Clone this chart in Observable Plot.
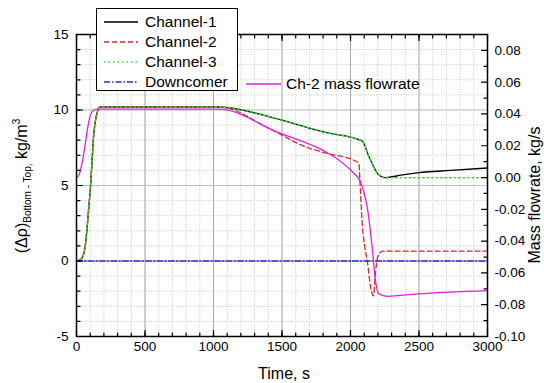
<!DOCTYPE html>
<html><head><meta charset="utf-8">
<script src="https://cdn.jsdelivr.net/npm/d3@7"></script>
<script src="https://cdn.jsdelivr.net/npm/@observablehq/plot@0.6"></script>
<style>
body{margin:0;background:#fff;}
#chart{position:relative;width:544px;height:383px;}
svg{font-family:"Liberation Sans",Arial,sans-serif;}
</style></head><body><div id="chart"></div>
<script>
// ---- data ----
const ch1Time  = [0, 30, 50, 66, 78, 90, 102, 114, 126, 140, 155, 170, 1040, 1430, 1800, 2085, 2135, 2207, 2256, 2365, 2500, 2730, 3000];
const ch1Value = [0, 0.1, 0.4, 1.15, 2.25, 3.6, 4.9, 6.7, 8.4, 9.4, 9.95, 10.2, 10.2, 9.5, 8.55, 7.95, 6.9, 5.7, 5.52, 5.68, 5.85, 6.0, 6.16];

const ch2Time  = [0, 30, 50, 66, 78, 90, 102, 114, 126, 140, 155, 170, 1040, 1430, 1674, 1800, 2061, 2068, 2075, 2087, 2105, 2124, 2146, 2168, 2182, 2197, 2215, 2235, 3000];
const ch2Value = [0, 0.1, 0.4, 1.15, 2.25, 3.6, 4.9, 6.7, 8.4, 9.4, 9.95, 10.2, 10.2, 8.66, 7.55, 7.2, 6.5, 5.5, 4.2, 2.3, 0.9, -0.1, -1.7, -2.3, -0.8, 0.2, 0.55, 0.65, 0.66];

const ch3Time  = [0, 30, 50, 66, 78, 90, 102, 114, 126, 140, 155, 170, 1040, 1430, 1800, 2085, 2135, 2207, 2256, 2500, 3000];
const ch3Value = [0, 0.1, 0.4, 1.15, 2.25, 3.6, 4.9, 6.7, 8.4, 9.4, 9.95, 10.2, 10.2, 9.5, 8.55, 7.95, 6.9, 5.7, 5.52, 5.52, 5.52];

const dcTime  = [0, 3000];
const dcValue = [0, 0];

// Ch-2 mass flowrate (kg/s, right axis)
const massTime  = [0, 20, 40, 55, 70, 85, 100, 120, 150, 1040, 1430, 2055, 2085, 2121, 2158, 2182, 2207, 2268, 2487, 3000];
const massValue = [0.000, 0.002, 0.009, 0.016, 0.025, 0.033, 0.039, 0.042, 0.043, 0.043, 0.030, 0.000, -0.0057, -0.018, -0.0437, -0.0647, -0.0732, -0.0747, -0.0732, -0.0711];

// ---- axes ----
const xDomain = [0, 3000];
const leftDomain = [-5, 15];
const rightDomain = [-0.10, 0.09];
const xMajor = [0, 500, 1000, 1500, 2000, 2500, 3000];
const xMinor = d3.range(100, 3000, 100);
const yMajor = [-5, 0, 5, 10, 15];
const yMinor = d3.range(-4, 15, 1);
const rMajor = [-0.10, -0.08, -0.06, -0.04, -0.02, 0.00, 0.02, 0.04, 0.06, 0.08];
const rMinor = [-0.09, -0.07, -0.05, -0.03, -0.01, 0.01, 0.03, 0.05, 0.07];

const seriesNames = ["Channel-1", "Channel-2", "Channel-3", "Downcomer"];
const massName = "Ch-2 mass flowrate";

const toLeft = m => leftDomain[0] + (m - rightDomain[0]) * (leftDomain[1] - leftDomain[0]) / (rightDomain[1] - rightDomain[0]);
const rows = (T, V, f = v => v) => T.map((t, i) => ({t, v: f(V[i])}));

const tickShape = (dx, dy) => ({draw(ctx, l) { ctx.moveTo(0, 0); ctx.lineTo(dx * l, dy * l); }});
const MAJ = 6, MIN = 3.5;
const tickMarks = [
  Plot.vector(yMajor, {y: d => d, frameAnchor: "left", length: MAJ, anchor: "start", shape: tickShape(1, 0), stroke: "black", strokeWidth: 1.2}),
  Plot.vector(yMinor, {y: d => d, frameAnchor: "left", length: MIN, anchor: "start", shape: tickShape(1, 0), stroke: "black", strokeWidth: 1.2}),
  Plot.vector(rMajor, {y: d => toLeft(d), frameAnchor: "right", length: MAJ, anchor: "start", shape: tickShape(-1, 0), stroke: "black", strokeWidth: 1.2}),
  Plot.vector(rMinor, {y: d => toLeft(d), frameAnchor: "right", length: MIN, anchor: "start", shape: tickShape(-1, 0), stroke: "black", strokeWidth: 1.2}),
  Plot.vector(xMajor, {x: d => d, frameAnchor: "bottom", length: MAJ, anchor: "start", shape: tickShape(0, -1), stroke: "black", strokeWidth: 1.2}),
  Plot.vector(xMinor, {x: d => d, frameAnchor: "bottom", length: MIN, anchor: "start", shape: tickShape(0, -1), stroke: "black", strokeWidth: 1.2}),
  Plot.vector(xMajor, {x: d => d, frameAnchor: "top", length: MAJ, anchor: "start", shape: tickShape(0, 1), stroke: "black", strokeWidth: 1.2}),
  Plot.vector(xMinor, {x: d => d, frameAnchor: "top", length: MIN, anchor: "start", shape: tickShape(0, 1), stroke: "black", strokeWidth: 1.2})
];

const chart = Plot.plot({
  width: 544, height: 383,
  marginLeft: 76, marginRight: 57, marginTop: 34, marginBottom: 47,
  style: {fontFamily: "'Liberation Sans', Arial, sans-serif", background: "white", color: "black"},
  x: {domain: xDomain, axis: null},
  y: {domain: leftDomain, axis: null},
  marks: [
    Plot.gridX(xMinor, {stroke: "#c8c8c8", strokeOpacity: 1, strokeDasharray: "1,1.5"}),
    Plot.gridY(yMinor, {stroke: "#c8c8c8", strokeOpacity: 1, strokeDasharray: "1,1.5"}),
    Plot.gridX(xMajor, {stroke: "#a8a8a8", strokeOpacity: 1}),
    Plot.gridY(yMajor, {stroke: "#c0c0c0", strokeOpacity: 1}),
    Plot.line(rows(ch1Time, ch1Value), {x: "t", y: "v", stroke: "black", strokeWidth: 1.3, curve: "monotone-x"}),
    Plot.line(rows(ch2Time, ch2Value), {x: "t", y: "v", stroke: "#d42a2a", strokeWidth: 1.3, strokeDasharray: "5,3", curve: "monotone-x"}),
    Plot.line(rows(ch3Time, ch3Value), {x: "t", y: "v", stroke: "#33dd33", strokeWidth: 1.5, strokeDasharray: "1.5,3", curve: "monotone-x"}),
    Plot.line(rows(dcTime, dcValue), {x: "t", y: "v", stroke: "#2b2bd0", strokeWidth: 1.3, strokeDasharray: "6,2,1.5,2"}),
    Plot.line(rows(massTime, massValue, toLeft), {x: "t", y: "v", stroke: "#e020e0", strokeWidth: 1.3, curve: "monotone-x"}),
    Plot.frame({stroke: "black", strokeWidth: 1.5}),
    ...tickMarks,
    Plot.text(yMajor, {y: d => d, text: d => String(d), frameAnchor: "left", dx: -8, textAnchor: "end", fontSize: 13.5, fill: "black"}),
    Plot.text(rMajor, {y: d => toLeft(d), text: d => d.toFixed(2), frameAnchor: "right", dx: 7, textAnchor: "start", fontSize: 13.5, fill: "black"}),
    Plot.text(xMajor, {x: d => d, text: d => String(d), frameAnchor: "bottom", dy: 14, fontSize: 13.5, fill: "black"})
  ]
});
document.getElementById("chart").appendChild(chart);

// ---- titles and legend ----
const svg = d3.select(chart);
const font = "'Liberation Sans', Arial, sans-serif";
const lt = svg.append("text").attr("transform", "translate(21,186) rotate(-90)")
  .attr("text-anchor", "middle").attr("dy", "0.35em").attr("font-size", 16).attr("font-family", font).attr("fill", "black");
lt.append("tspan").text("(Δρ)");
lt.append("tspan").attr("font-size", 10).attr("dy", 4).text("Bottom - Top,");
lt.append("tspan").attr("dy", -4).text(" kg/m");
lt.append("tspan").attr("font-size", 10).attr("dy", -7).text("3");

svg.append("text").attr("transform", "translate(534.5,195) rotate(-90)")
  .attr("text-anchor", "middle").attr("dy", "0.35em").attr("font-size", 16).attr("font-family", font).attr("fill", "black")
  .text("Mass flowrate, kg/s");
svg.append("text").attr("x", 284).attr("y", 379).attr("text-anchor", "middle")
  .attr("font-size", 16).attr("font-family", font).attr("fill", "black").text("Time, s");

const legendStyles = [
  {stroke: "black", dash: null, w: 1.3},
  {stroke: "#d42a2a", dash: "5,3", w: 1.3},
  {stroke: "#33dd33", dash: "1.5,3", w: 1.5},
  {stroke: "#2b2bd0", dash: "6,2,1.5,2", w: 1.3}
];
const lg = svg.append("g");
lg.append("rect").attr("x", 96.5).attr("y", 8.5).attr("width", 141).attr("height", 82)
  .attr("fill", "white").attr("stroke", "black").attr("stroke-width", 1);
seriesNames.forEach((name, i) => {
  const y = 22 + i * 20;
  lg.append("line").attr("x1", 104).attr("x2", 138).attr("y1", y).attr("y2", y)
    .attr("stroke", legendStyles[i].stroke).attr("stroke-width", legendStyles[i].w)
    .attr("stroke-dasharray", legendStyles[i].dash);
  lg.append("text").attr("x", 145).attr("y", y).attr("dy", "0.35em").attr("text-anchor", "start")
    .attr("font-size", 15.5).attr("font-family", font).attr("fill", "black").text(name);
});
lg.append("line").attr("x1", 246).attr("x2", 281).attr("y1", 84).attr("y2", 84)
  .attr("stroke", "#e020e0").attr("stroke-width", 1.3);
lg.append("text").attr("x", 286).attr("y", 84).attr("dy", "0.35em").attr("text-anchor", "start")
  .attr("font-size", 15.5).attr("font-family", font).attr("fill", "black").text(massName);
</script></body></html>
